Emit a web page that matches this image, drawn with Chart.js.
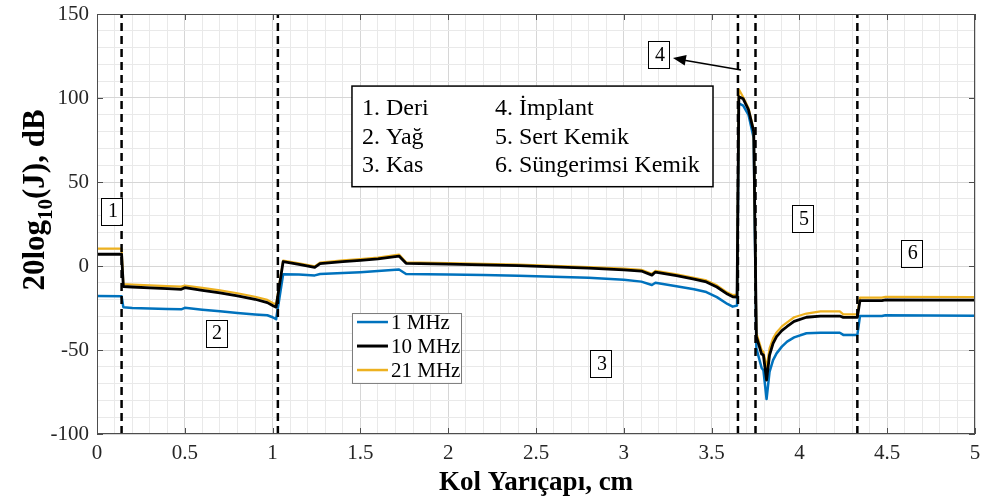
<!DOCTYPE html>
<html><head><meta charset="utf-8">
<script src="https://cdn.jsdelivr.net/npm/chart.js@4.4.1/dist/chart.umd.min.js"></script>
<style>html,body{margin:0;padding:0;background:#fff;}canvas{display:block;}</style>
</head><body>
<canvas id="c" width="982" height="502"></canvas>
<script>
// ---- data ----
const radius = [0, 0.14, 0.15, 0.2, 0.3, 0.4, 0.48, 0.5, 0.6, 0.7, 0.8, 0.9, 0.97, 1.0, 1.02,
  1.06, 1.15, 1.24, 1.27, 1.4, 1.5, 1.6, 1.72, 1.76, 2.0, 2.2, 2.4, 2.6, 2.8, 3.0, 3.1, 3.16, 3.18,
  3.3, 3.4, 3.47, 3.53, 3.59, 3.62, 3.645, 3.655, 3.68, 3.71, 3.74, 3.755, 3.785, 3.795, 3.813,
  3.83, 3.85, 3.87, 3.9, 3.93, 3.97, 4.04, 4.12, 4.23, 4.25, 4.33, 4.345, 4.47, 4.49, 5.0];
const j1MHz = [-17.8, -18.0, -24.5, -25.0, -25.3, -25.6, -25.8, -24.9, -26.0, -27.0, -28.0, -28.8, -29.3, -30.5, -31.7,
  -4.9, -5.1, -5.6, -4.8, -4.2, -3.7, -3.0, -2.1, -4.8, -5.1, -5.4, -5.8, -6.4, -7.0, -8.2, -9.3, -11.3, -10.0,
  -12.0, -13.8, -15.5, -18.5, -22.6, -24.2, -23.5, 96.8, 95.5, 90, 76, -49, -60.7, -62, -79.2,
  -63, -56, -52, -48, -45, -42.5, -40, -39.7, -39.7, -41, -41, -29.8, -29.8, -29.3, -29.6];
const j10MHz = [7.0, 7.0, -12.2, -12.5, -13.0, -13.5, -13.9, -12.9, -14.5, -16.0, -17.8, -19.8, -21.8, -23.5, -24.5,
  2.6, 1.0, -0.8, 1.4, 2.6, 3.4, 4.3, 5.9, 1.6, 1.1, 0.7, 0.2, -0.5, -1.3, -2.3, -3.0, -5.4, -3.6,
  -5.8, -7.8, -9.5, -12.5, -16.7, -18.3, -18.5, 100.8, 99.5, 93, 80, -42, -52.4, -53, -67.9,
  -53, -46, -42, -38.5, -36, -33, -30.5, -29.8, -29.8, -30.6, -30.6, -20.6, -20.6, -20.2, -20.3];
const j21MHz = [10.3, 10.3, -10.8, -11.0, -11.5, -12.0, -12.3, -11.6, -13.0, -14.5, -16.2, -18.3, -20.2, -22.0, -22.8,
  3.2, 1.6, -0.2, 2.0, 3.3, 4.1, 5.0, 6.8, 2.2, 1.7, 1.3, 0.8, 0.1, -0.6, -1.6, -2.3, -4.7, -2.9,
  -5.0, -7.0, -8.6, -11.5, -15.8, -17.3, -17.0, 105.2, 100.5, 94, 81, -40, -50, -51, -60.5,
  -49, -43, -39.5, -36, -33.5, -30.5, -28.3, -27, -27, -28.8, -28.8, -18.8, -18.8, -18.3, -18.5];
const boundaries = [0.14, 1.03, 3.65, 3.75, 4.33];
const seriesLabels = ['1 MHz', '10 MHz', '21 MHz'];
const seriesColors = ['#0072BD', '#000000', '#EDB120'];
const layerLabelsLeft = ['1. Deri', '2. Yağ', '3. Kas'];
const layerLabelsRight = ['4. İmplant', '5. Sert Kemik', '6. Süngerimsi Kemik'];
const regionTags = ['1', '2', '3', '4', '5', '6'];
const xTitle = 'Kol Yarıçapı, cm';

const FONT = "'Liberation Serif', 'Times New Roman', serif";
Chart.defaults.font.family = FONT;
Chart.defaults.color = '#262626';

const toXY = ys => radius.map((x, i) => ({x: x, y: ys[i]}));

const datasets = [];
boundaries.forEach(b => datasets.push({
  data: [{x: b, y: -100}, {x: b, y: 150}],
  borderColor: '#000', borderWidth: 2.5, borderDash: [8, 5], pointRadius: 0, order: 0
}));
datasets.push({label: seriesLabels[0], data: toXY(j1MHz), borderColor: seriesColors[0], borderWidth: 2.5, pointRadius: 0, order: 4});
datasets.push({label: seriesLabels[2], data: toXY(j21MHz), borderColor: seriesColors[2], borderWidth: 2.2, pointRadius: 0, order: 3});
datasets.push({label: seriesLabels[1], data: toXY(j10MHz), borderColor: seriesColors[1], borderWidth: 2.8, pointRadius: 0, order: 2});

const overlay = {
  id: 'overlay',
  afterDatasetsDraw(chart) {
    const {ctx, chartArea: a, scales: {x, y}} = chart;
    const px = v => x.getPixelForValue(v), py = v => y.getPixelForValue(v);
    ctx.save();
    // axes box
    ctx.strokeStyle = '#4d4d4d'; ctx.lineWidth = 1;
    ctx.strokeRect(a.left + 0.5, a.top + 0.5, a.right - a.left - 1, a.bottom - a.top - 1);
    // inward major ticks
    ctx.beginPath();
    for (let v = 0; v <= 5.0001; v += 0.5) {
      const p = Math.round(px(v)) + 0.5;
      ctx.moveTo(p, a.bottom); ctx.lineTo(p, a.bottom - 6);
      ctx.moveTo(p, a.top); ctx.lineTo(p, a.top + 6);
    }
    for (let v = -100; v <= 150; v += 50) {
      const p = Math.round(py(v)) + 0.5;
      ctx.moveTo(a.left, p); ctx.lineTo(a.left + 6, p);
      ctx.moveTo(a.right, p); ctx.lineTo(a.right - 6, p);
    }
    ctx.stroke();

    // layer text box
    const bx0 = px(1.452), bx1 = px(3.508), by0 = py(107.1), by1 = py(47.2);
    ctx.fillStyle = '#fff'; ctx.fillRect(bx0, by0, bx1 - bx0, by1 - by0);
    ctx.strokeStyle = '#000'; ctx.lineWidth = 1.5; ctx.strokeRect(bx0, by0, bx1 - bx0, by1 - by0);
    ctx.fillStyle = '#000'; ctx.font = "24px " + FONT; ctx.textBaseline = 'alphabetic'; ctx.textAlign = 'left';
    const rows = [by0 + 29, by0 + 58, by0 + 86];
    layerLabelsLeft.forEach((t, i) => ctx.fillText(t, bx0 + 10, rows[i]));
    layerLabelsRight.forEach((t, i) => ctx.fillText(t, bx0 + 143, rows[i]));

    // series legend
    const lx0 = px(1.452), lx1 = px(2.073), ly0 = py(-28), ly1 = py(-69.6);
    ctx.fillStyle = '#fff'; ctx.fillRect(lx0, ly0, lx1 - lx0, ly1 - ly0);
    ctx.strokeStyle = '#7a7a7a'; ctx.lineWidth = 1; ctx.strokeRect(lx0 + 0.5, ly0 + 0.5, lx1 - lx0, ly1 - ly0);
    ctx.font = "21px " + FONT; ctx.textBaseline = 'middle';
    seriesLabels.forEach((t, i) => {
      const yy = ly0 + 9 + i * 24;
      ctx.strokeStyle = seriesColors[i]; ctx.lineWidth = i === 1 ? 3 : 2.5;
      ctx.beginPath(); ctx.moveTo(lx0 + 5, yy); ctx.lineTo(lx0 + 36, yy); ctx.stroke();
      ctx.fillStyle = '#000'; ctx.fillText(t, lx0 + 39, yy + 1);
    });

    // region tags
    const tagPos = [[0.085, 32.7], [0.678, -39.9], [2.87, -58.3], [3.2, 126], [4.02, 28], [4.64, 7.7]];
    ctx.font = "20px " + FONT; ctx.textAlign = 'center'; ctx.textBaseline = 'middle';
    regionTags.forEach((t, i) => {
      const cx = px(tagPos[i][0]), cy = py(tagPos[i][1]);
      ctx.fillStyle = '#fff'; ctx.fillRect(cx - 10.5, cy - 13.5, 21, 27);
      ctx.strokeStyle = '#000'; ctx.lineWidth = 1; ctx.strokeRect(Math.round(cx - 10.5) + 0.5, Math.round(cy - 13.5) + 0.5, 21, 27);
      ctx.fillStyle = '#000'; ctx.fillText(t, cx + 1, cy + 1);
    });

    // arrow to tag 4
    const ax0 = px(3.667), ay0 = py(116.7), ax1 = px(3.28), ay1 = py(123.8);
    ctx.strokeStyle = '#000'; ctx.lineWidth = 1.5;
    ctx.beginPath(); ctx.moveTo(ax0, ay0); ctx.lineTo(ax1 + 10, ay1 + 2); ctx.stroke();
    const ang = Math.atan2(ay1 - ay0, ax1 - ax0);
    ctx.fillStyle = '#000'; ctx.beginPath();
    ctx.moveTo(ax1, ay1);
    ctx.lineTo(ax1 - 14 * Math.cos(ang - 0.4), ay1 - 14 * Math.sin(ang - 0.4));
    ctx.lineTo(ax1 - 14 * Math.cos(ang + 0.4), ay1 - 14 * Math.sin(ang + 0.4));
    ctx.closePath(); ctx.fill();

    // y axis title with subscript
    ctx.translate(44, 200);
    ctx.rotate(-Math.PI / 2);
    ctx.textAlign = 'left'; ctx.textBaseline = 'alphabetic'; ctx.fillStyle = '#000';
    const big = "bold 31px " + FONT, small = "bold 21px " + FONT;
    const parts = [['20log', big, 0], ['10', small, 8], ['(J), dB', big, 0]];
    let total = 0;
    parts.forEach(p => { ctx.font = p[1]; total += ctx.measureText(p[0]).width; });
    let cx = -total / 2;
    parts.forEach(p => { ctx.font = p[1]; ctx.fillText(p[0], cx, p[2]); cx += ctx.measureText(p[0]).width; });
    ctx.restore();
  }
};

const majorGrid = '#d6d6d6', minorGrid = '#e9e9e9';
new Chart(document.getElementById('c'), {
  type: 'line',
  data: {datasets},
  options: {
    responsive: false, animation: false, devicePixelRatio: 1,
    layout: {padding: {top: 14, right: 7, left: 0, bottom: 0}},
    plugins: {legend: {display: false}, tooltip: {enabled: false}},
    elements: {line: {tension: 0, borderCapStyle: 'butt', borderJoinStyle: 'round'}},
    scales: {
      x: {
        type: 'linear', min: 0, max: 5,
        afterFit: s => { s.height = 68; s.paddingLeft = 0; s.paddingRight = 0; },
        border: {display: false},
        grid: {drawTicks: false, color: c => (Math.abs(c.tick.value * 2 - Math.round(c.tick.value * 2)) < 1e-6 ? majorGrid : minorGrid), lineWidth: 1},
        ticks: {stepSize: 0.1, autoSkip: false, maxTicksLimit: 200, maxRotation: 0, minRotation: 0, padding: 7,
          color: '#262626', font: {size: 21, family: FONT},
          callback: v => { const r = Math.round(v * 10); return r % 5 === 0 ? String(r / 10) : ''; }},
        title: {display: true, text: xTitle, color: '#000', font: {size: 27, weight: 'bold', family: FONT}, padding: {top: 0, bottom: 3}}
      },
      y: {
        type: 'linear', min: -100, max: 150,
        afterFit: s => { s.width = 97; s.paddingTop = 0; s.paddingBottom = 0; },
        border: {display: false},
        grid: {drawTicks: false, color: c => (c.tick.value % 50 === 0 ? majorGrid : minorGrid), lineWidth: 1},
        ticks: {stepSize: 10, autoSkip: false, maxTicksLimit: 200, padding: 8,
          color: '#262626', font: {size: 21, family: FONT},
          callback: v => (Math.round(v) % 50 === 0 ? String(Math.round(v)) : '')}
      }
    }
  },
  plugins: [overlay]
});
</script>
</body></html>
